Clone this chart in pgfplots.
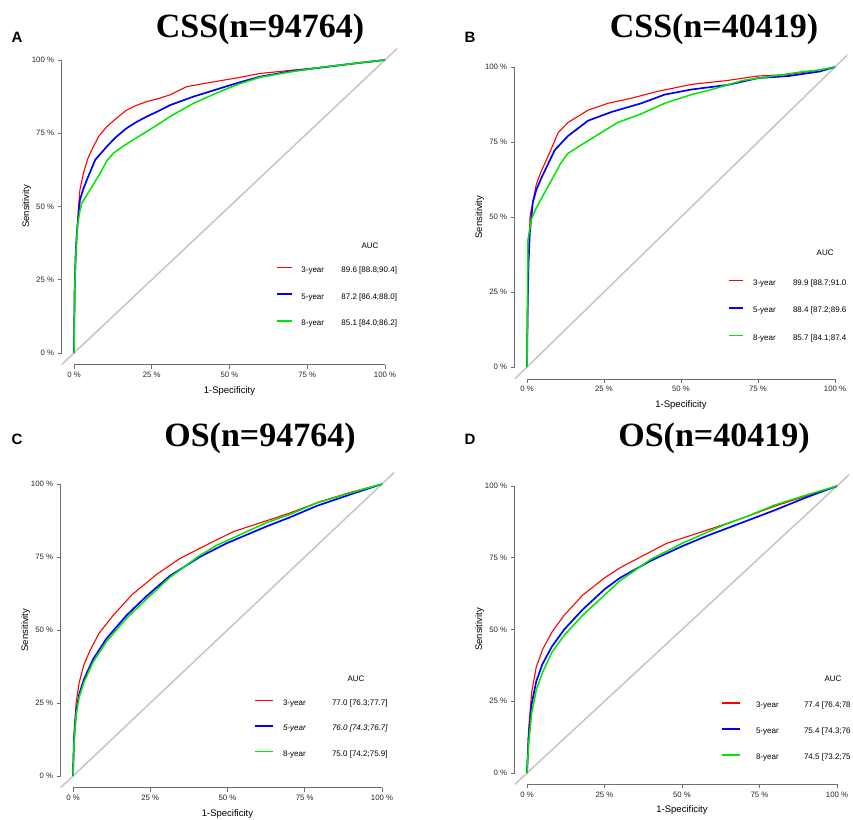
\documentclass[border=0pt]{standalone}
\usepackage{fontspec}
\setmainfont{Liberation Sans}
\newfontfamily\titlefont{Liberation Serif}
\usepackage{pgfplots}
\pgfplotsset{compat=1.18}

\definecolor{rocred}{RGB}{255,0,0}
\definecolor{rocblue}{RGB}{0,0,255}
\definecolor{rocgreen}{RGB}{0,230,0}
\definecolor{diaggray}{RGB}{200,200,200}
\definecolor{axgray}{RGB}{110,110,110}

\pgfplotsset{
  rocaxis/.style={
    scale only axis,
    xmin=-0.04, xmax=1.04, ymin=-0.04, ymax=1.04,
    axis x line*=bottom, axis y line*=left,
    axis line style={-, draw=axgray, line width=0.7pt},
    x axis line style={shorten <=12.4pt, shorten >=12.4pt},
    y axis line style={shorten <=11.7pt, shorten >=11.7pt},
    xtick={0,0.25,0.5,0.75,1}, ytick={0,0.25,0.5,0.75,1},
    xticklabels={0 \%,25 \%,50 \%,75 \%,100 \%},
    yticklabels={0 \%,25 \%,50 \%,75 \%,100 \%},
    tick align=outside, major tick length=4pt,
    tick style={draw=axgray, line width=0.7pt},
    tick label style={font=\fontsize{7.8}{9}\selectfont, text=black!85},
    xlabel={1-Specificity}, ylabel={Sensitivity},
    every axis x label/.style={at={(axis description cs:0.5,0)}, anchor=center, yshift=-26pt, font=\fontsize{9.5}{11}\selectfont},
    every axis y label/.style={at={(axis description cs:0,0.5)}, xshift=-35pt, rotate=90, anchor=center, font=\fontsize{9.5}{11}\selectfont},
    legend cell align=left,
    legend style={anchor=west, draw=none, fill=none, inner sep=0pt, outer sep=0pt,
      font=\fontsize{8}{9}\selectfont, nodes={inner sep=0pt, text height=6pt, text depth=2pt}},
  },
  r3/.style={rocred, line width=1.1pt},
  r5/.style={rocblue, line width=1.7pt},
  r8/.style={rocgreen, line width=1.5pt},
  diag/.style={diaggray, line width=1.6pt, forget plot},
}

\begin{document}
\begin{tikzpicture}
\useasboundingbox (0pt,0pt) rectangle (853pt,819pt);

% ---------------- A ----------------
\begin{axis}[rocaxis, at={(61.56pt,454.28pt)}, anchor=south west,
  width=335.88pt, height=316.44pt,
  legend style={at={(axis cs:0.654,0.191)}, row sep=18.7pt, column sep=9pt},
  legend image code/.code={\fill[#1, draw=none] (0pt,2pt) rectangle (15pt,3.8pt);}]
\addplot[diag] coordinates {(-0.04,-0.04) (1.04,1.04)};
\addplot[r3] coordinates {(0,0) (0.003,0.25) (0.009,0.40) (0.014,0.49) (0.019,0.556) (0.03,0.613) (0.045,0.665) (0.062,0.704) (0.08,0.74) (0.105,0.772) (0.135,0.80) (0.169,0.829) (0.2,0.845) (0.234,0.858) (0.27,0.868) (0.309,0.881) (0.362,0.909) (0.42,0.92) (0.469,0.929) (0.53,0.94) (0.598,0.954) (0.7,0.965) (0.8,0.975) (0.9,0.988) (1,1)};
\addplot[r5] coordinates {(0,0) (0.002,0.22) (0.005,0.33) (0.009,0.41) (0.019,0.522) (0.03,0.56) (0.041,0.59) (0.068,0.659) (0.105,0.704) (0.135,0.737) (0.169,0.767) (0.2,0.788) (0.234,0.807) (0.27,0.825) (0.309,0.846) (0.384,0.875) (0.469,0.903) (0.53,0.923) (0.598,0.943) (0.7,0.962) (0.8,0.975) (0.9,0.988) (1,1)};
\addplot[r8] coordinates {(0,0) (0.002,0.2) (0.005,0.32) (0.011,0.431) (0.018,0.48) (0.025,0.511) (0.051,0.556) (0.084,0.613) (0.105,0.655) (0.126,0.681) (0.15,0.70) (0.18,0.721) (0.234,0.756) (0.27,0.78) (0.309,0.807) (0.384,0.852) (0.469,0.892) (0.53,0.918) (0.598,0.941) (0.7,0.96) (0.8,0.976) (0.9,0.988) (1,1)};
\addlegendentry{\makebox[40pt][l]{3-year}89.6 [88.8;90.4]}
\addlegendentry{\makebox[40pt][l]{5-year}87.2 [86.4;88.0]}
\addlegendentry{\makebox[40pt][l]{8-year}85.1 [84.0;86.2]}
\node[font=\fontsize{8}{9}\selectfont] at (axis cs:0.952,0.365) {AUC};
\end{axis}

% ---------------- B ----------------
\begin{axis}[rocaxis, at={(514.68pt,440pt)}, anchor=south west,
  width=332.64pt, height=324pt,
  legend style={at={(axis cs:0.656,0.187)}, row sep=19.5pt, column sep=10pt},
  legend image code/.code={\fill[#1, draw=none] (0pt,2pt) rectangle (14pt,3.8pt);}]
\addplot[diag] coordinates {(-0.04,-0.04) (1.04,1.04)};
\addplot[r3] coordinates {(0,0) (0.002,0.15) (0.004,0.331) (0.01,0.504) (0.03,0.608) (0.045,0.65) (0.057,0.677) (0.08,0.73) (0.101,0.781) (0.133,0.815) (0.165,0.835) (0.198,0.856) (0.263,0.879) (0.339,0.896) (0.425,0.919) (0.534,0.942) (0.65,0.955) (0.75,0.97) (0.85,0.975) (0.95,0.99) (1,1)};
\addplot[r5] coordinates {(0,0) (0.002,0.2) (0.005,0.35) (0.009,0.446) (0.019,0.55) (0.03,0.59) (0.047,0.631) (0.07,0.68) (0.09,0.723) (0.133,0.77) (0.165,0.795) (0.198,0.821) (0.274,0.85) (0.371,0.879) (0.447,0.908) (0.534,0.925) (0.65,0.94) (0.75,0.963) (0.85,0.97) (0.95,0.985) (1,1)};
\addplot[r8] coordinates {(0,0) (0.002,0.25) (0.003,0.423) (0.014,0.492) (0.03,0.53) (0.047,0.562) (0.07,0.605) (0.09,0.642) (0.11,0.68) (0.133,0.712) (0.176,0.74) (0.231,0.775) (0.295,0.815) (0.371,0.844) (0.447,0.879) (0.534,0.908) (0.6,0.925) (0.7,0.955) (0.8,0.97) (0.9,0.985) (0.95,0.99) (1,1)};
\addlegendentry{\makebox[40pt][l]{3-year}89.9 [88.7;91.0}
\addlegendentry{\makebox[40pt][l]{5-year}88.4 [87.2;89.6}
\addlegendentry{\makebox[40pt][l]{8-year}85.7 [84.1;87.4}
\node[font=\fontsize{8}{9}\selectfont] at (axis cs:0.968,0.38) {AUC};
\end{axis}

% ---------------- C ----------------
\begin{axis}[rocaxis, at={(60.64pt,31.32pt)}, anchor=south west,
  width=333.72pt, height=315.36pt,
  legend style={at={(axis cs:0.589,0.161)}, row sep=17.5pt, column sep=10pt},
  legend image code/.code={\fill[#1, draw=none] (0pt,2pt) rectangle (18pt,3.8pt);}]
\addplot[diag] coordinates {(-0.04,-0.04) (1.04,1.04)};
\addplot[r3] coordinates {(0,0) (0.003,0.14) (0.01,0.25) (0.02,0.32) (0.035,0.38) (0.055,0.43) (0.085,0.49) (0.13,0.55) (0.19,0.62) (0.27,0.69) (0.346,0.745) (0.42,0.785) (0.519,0.837) (0.6,0.865) (0.7,0.9) (0.8,0.94) (0.9,0.972) (1,1)};
\addplot[r5] coordinates {(0,0) (0.003,0.12) (0.01,0.22) (0.02,0.28) (0.035,0.33) (0.065,0.40) (0.108,0.47) (0.173,0.55) (0.237,0.615) (0.313,0.685) (0.41,0.75) (0.497,0.797) (0.627,0.855) (0.7,0.885) (0.789,0.925) (0.9,0.965) (1,1)};
\addplot[r8] coordinates {(0,0) (0.003,0.11) (0.01,0.21) (0.02,0.27) (0.035,0.32) (0.065,0.39) (0.108,0.46) (0.173,0.54) (0.237,0.605) (0.313,0.68) (0.41,0.755) (0.465,0.79) (0.627,0.868) (0.7,0.895) (0.789,0.935) (0.9,0.97) (1,1)};
\addlegendentry{\makebox[49pt][l]{3-year}77.0 [76.3;77.7]}
\addlegendentry{\itshape\makebox[49pt][l]{5-year}76.0 [74.3;76.7]}
\addlegendentry{\makebox[49pt][l]{8-year}75.0 [74.2;75.9]}
\node[font=\fontsize{8}{9}\selectfont] at (axis cs:0.916,0.332) {AUC};
\end{axis}

% ---------------- D ----------------
\begin{axis}[rocaxis, at={(514.6pt,34.52pt)}, anchor=south west,
  width=334.8pt, height=309.96pt,
  legend style={at={(axis cs:0.629,0.143)}, row sep=18pt, column sep=16pt},
  legend image code/.code={\fill[#1, draw=none] (0pt,2pt) rectangle (18pt,3.8pt);}]
\addplot[diag] coordinates {(-0.04,-0.04) (1.04,1.04)};
\addplot[r3] coordinates {(0,0) (0.005,0.15) (0.015,0.28) (0.03,0.37) (0.05,0.43) (0.08,0.49) (0.12,0.55) (0.18,0.62) (0.25,0.68) (0.3,0.715) (0.365,0.752) (0.45,0.80) (0.58,0.846) (0.7,0.89) (0.8,0.93) (0.9,0.965) (1,1)};
\addplot[r5] coordinates {(0,0) (0.005,0.12) (0.015,0.24) (0.03,0.32) (0.05,0.38) (0.08,0.44) (0.12,0.50) (0.18,0.57) (0.25,0.64) (0.3,0.68) (0.4,0.74) (0.5,0.79) (0.58,0.826) (0.7,0.875) (0.8,0.916) (0.9,0.96) (1,1)};
\addplot[r8] coordinates {(0,0) (0.005,0.10) (0.015,0.21) (0.03,0.29) (0.05,0.35) (0.08,0.42) (0.12,0.48) (0.18,0.55) (0.25,0.62) (0.3,0.67) (0.4,0.745) (0.5,0.80) (0.634,0.864) (0.7,0.89) (0.8,0.934) (0.9,0.968) (1,1)};
\addlegendentry{\makebox[48pt][l]{3-year}77.4 [76.4;78}
\addlegendentry{\makebox[48pt][l]{5-year}75.4 [74.3;76}
\addlegendentry{\makebox[48pt][l]{8-year}74.5 [73.2;75}
\node[font=\fontsize{8}{9}\selectfont] at (axis cs:0.987,0.328) {AUC};
\end{axis}

% titles and panel letters
\node[font=\titlefont\bfseries\fontsize{34}{40}\selectfont, anchor=base] at (260pt,781pt) {CSS(n=94764)};
\node[font=\titlefont\bfseries\fontsize{34}{40}\selectfont, anchor=base] at (714pt,781pt) {CSS(n=40419)};
\node[font=\titlefont\bfseries\fontsize{34}{40}\selectfont, anchor=base] at (260pt,372pt) {OS(n=94764)};
\node[font=\titlefont\bfseries\fontsize{34}{40}\selectfont, anchor=base] at (714pt,372pt) {OS(n=40419)};
\node[font=\bfseries\fontsize{15}{16}\selectfont, anchor=base] at (17pt,776.6pt) {A};
\node[font=\bfseries\fontsize{15}{16}\selectfont, anchor=base] at (470pt,776.6pt) {B};
\node[font=\bfseries\fontsize{15}{16}\selectfont, anchor=base] at (17pt,374pt) {C};
\node[font=\bfseries\fontsize{15}{16}\selectfont, anchor=base] at (470pt,374pt) {D};
\end{tikzpicture}
\end{document}
